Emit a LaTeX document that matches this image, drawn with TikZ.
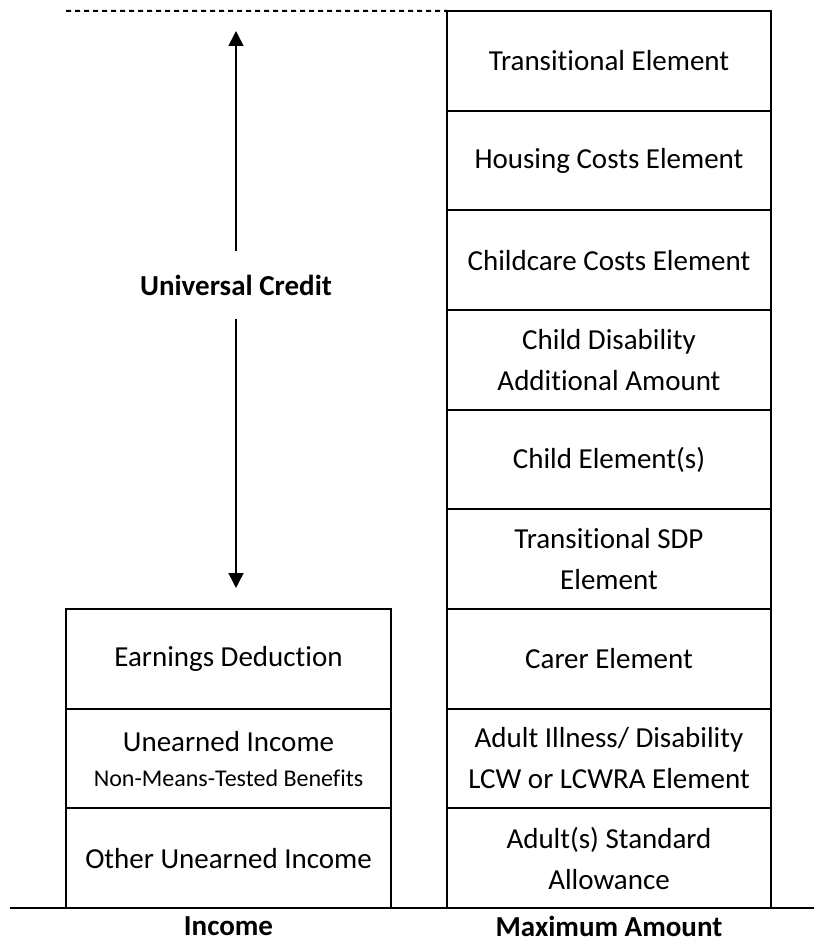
\documentclass[tikz,border=0pt]{standalone}
\usepackage{fontspec}
\setmainfont{Carlito}[Ligatures=NoCommon]
\usetikzlibrary{positioning,arrows.meta}

\tikzset{
  cell/.style={draw, rectangle, line width=2pt, outer sep=0pt, inner sep=0pt,
    minimum width=324pt, minimum height=99.67pt, align=center,
    font=\fontsize{29}{41}\selectfont},
  heading/.style={inner sep=1pt, font=\fontsize{29}{35}\selectfont\bfseries},
  arr/.style={-{Triangle[length=15pt,width=15pt]}, line width=1.5pt},
  topline/.style={line width=2pt, dash pattern=on 5pt off 4pt},
}
\newcommand{\smalltext}[1]{{\fontsize{24}{29}\selectfont #1}}

\begin{document}
\begin{tikzpicture}[x=1pt,y=-1pt]
    \useasboundingbox (0,0) rectangle (814,942);

    % Maximum amount column
    \node[cell] (r1) at (609,60.83) {Transitional Element};
    \node[cell, below=0pt of r1] (r2) {Housing Costs Element};
    \node[cell, below=0pt of r2] (r3) {Childcare Costs Element};
    \node[cell, below=0pt of r3] (r4) {Child Disability\\Additional Amount};
    \node[cell, below=0pt of r4] (r5) {Child Element(s)};
    \node[cell, below=0pt of r5] (r6) {Transitional SDP\\Element};
    \node[cell, below=0pt of r6] (r7) {Carer Element};
    \node[cell, below=0pt of r7] (r8) {Adult Illness/ Disability\\LCW or LCWRA Element};
    \node[cell, below=0pt of r8] (r9) {Adult(s) Standard\\Allowance};

    % Income column
    \node[cell, minimum width=325pt] (l1) at (228.5,0 |- r7) {Earnings Deduction};
    \node[cell, minimum width=325pt, below=0pt of l1] (l2) {Unearned Income\\[-6pt]\smalltext{Non-Means-Tested Benefits}};
    \node[cell, minimum width=325pt, below=0pt of l2] (l3) {Other Unearned Income};

    % Universal Credit gap
    \node[heading, minimum height=68pt] (uc) at (236,285) {Universal Credit};
    \coordinate (uctop) at (236,31);
    \coordinate (ucbot) at (236,588);
    \draw[arr] (uc) -- (uctop);
    \draw[arr] (uc) -- (ucbot);

    \coordinate (dashL) at (66,11);
    \draw[topline] (dashL) -- (r1.north west);

    % base line and captions
    \coordinate (baseL) at (10,908);
    \coordinate (baseR) at (814,908);
    \draw[line width=2pt] (baseL) -- (baseR);
    \node[heading] (inc) at (228.5,926) {Income};
    \node[heading] (maxamt) at (609,926) {Maximum Amount};
\end{tikzpicture}
\end{document}
